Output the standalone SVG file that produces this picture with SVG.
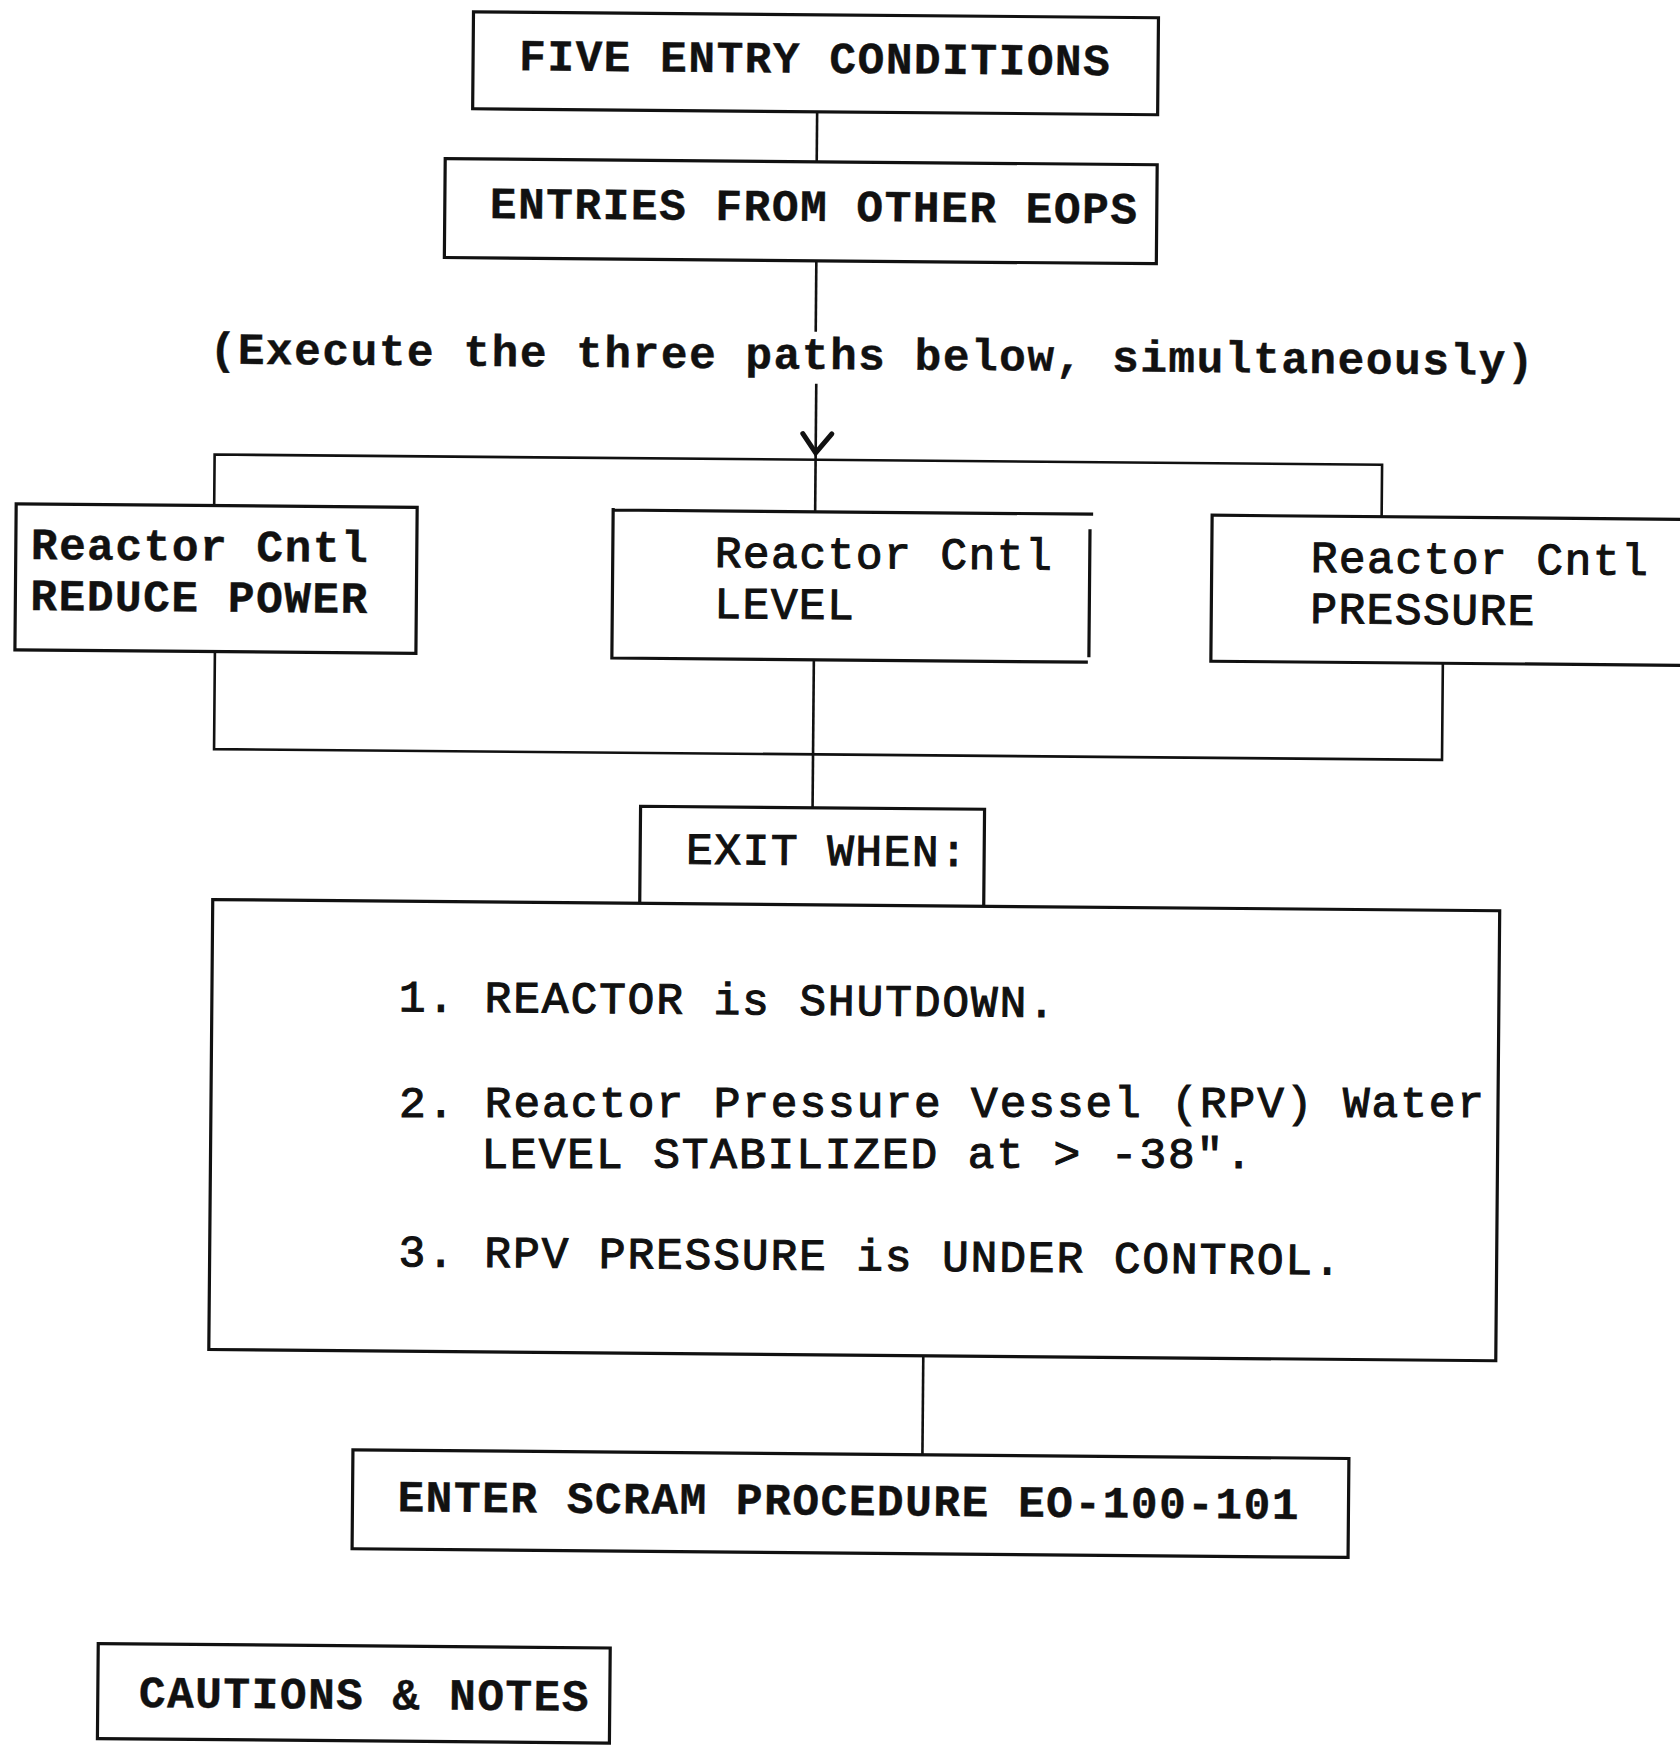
<svg xmlns="http://www.w3.org/2000/svg" width="1680" height="1746" viewBox="0 0 1680 1746">
  <style>
    .box { fill: none; stroke: #111; stroke-width: 3.2; }
    .wire { fill: none; stroke: #111; stroke-width: 2.6; }
    .head { fill: none; stroke: #111; stroke-width: 5; stroke-linejoin: miter; stroke-linecap: round; }
    .t { font-family: "Liberation Mono", "Courier New", monospace; font-size: 44.5px; letter-spacing: 1.5px; fill: #111; }
    .b { font-weight: bold; stroke: #111; stroke-width: 0.4; }
    .m { stroke: #111; stroke-width: 1.1; }
    .list { letter-spacing: 1.9px; }
  </style>
  <rect width="1680" height="1746" fill="#fff"/>
  <!-- whole sheet sits at a slight tilt -->
  <g transform="rotate(0.5 840 873)">
    <g id="connectors">
      <line class="wire" x1="810.5" y1="112" x2="810.5" y2="162"/>
      <line class="wire" x1="811" y1="261" x2="811" y2="332"/>
      <line class="wire" x1="812" y1="384" x2="812" y2="512"/>
      <polyline class="head" points="799,434 812,453 828,434"/>
      <polyline class="wire" points="211,511 211,460 1378.5,460 1378.5,512"/>
      <polyline class="wire" points="213,657 213,754.6 1441,754.6 1441,658"/>
      <line class="wire" x1="812" y1="660" x2="812" y2="808"/>
      <line class="wire" x1="927.5" y1="1355" x2="927.5" y2="1454"/>
    </g>

    <g id="five-entry-conditions">
      <rect class="box" x="466" y="15" width="685" height="97"/>
      <text class="t b" x="512" y="73">FIVE ENTRY CONDITIONS</text>
    </g>

    <g id="entries-from-other-eops">
      <rect class="box" x="439" y="162" width="712" height="99"/>
      <text class="t b" x="484" y="221">ENTRIES FROM OTHER EOPS</text>
    </g>

    <g id="execute-note">
      <text class="t b" x="205" y="369">(Execute the three paths below, simultaneously)</text>
    </g>

    <g id="reduce-power">
      <rect class="box" x="13" y="511" width="401" height="146"/>
      <text class="t b"><tspan x="28" y="566">Reactor Cntl</tspan><tspan x="28" y="617">REDUCE POWER</tspan></text>
    </g>

    <g id="level">
      <path class="box" d="M610,512 H1090 M610,510 V660 H1086 M1087,527 V655"/>
      <text class="t m"><tspan x="712" y="568">Reactor Cntl</tspan><tspan x="712" y="619">LEVEL</tspan></text>
    </g>

    <g id="pressure">
      <rect class="box" x="1209" y="512" width="481" height="146"/>
      <text class="t m"><tspan x="1308" y="568">Reactor Cntl</tspan><tspan x="1308" y="619">PRESSURE</tspan></text>
    </g>

    <g id="exit-when">
      <path class="box" d="M640,905 V808 H984 V905"/>
      <text class="t m" x="686" y="865">EXIT WHEN:</text>
    </g>

    <g id="exit-conditions">
      <rect class="box" x="213" y="905" width="1287" height="450"/>
      <text class="t m list" x="400" y="1015">1. REACTOR is SHUTDOWN.</text>
      <text class="t m list" x="402" y="1270">3. RPV PRESSURE is UNDER CONTROL.</text>
    </g>

    <g id="scram-procedure">
      <rect class="box" x="358" y="1454" width="996" height="99"/>
      <text class="t b" x="403" y="1515">ENTER SCRAM PROCEDURE EO-100-101</text>
    </g>

    <g id="cautions-notes">
      <rect class="box" x="105" y="1650" width="512" height="95"/>
      <text class="t b" x="146" y="1713">CAUTIONS &amp; NOTES</text>
    </g>
  </g>

  <!-- second exit condition, two lines, kept level -->
  <g id="exit-condition-2">
    <text class="t m list"><tspan x="399" y="1117">2. Reactor Pressure Vessel (RPV) Water</tspan><tspan x="481.5" y="1168">LEVEL STABILIZED at &gt; -38".</tspan></text>
  </g>
</svg>
